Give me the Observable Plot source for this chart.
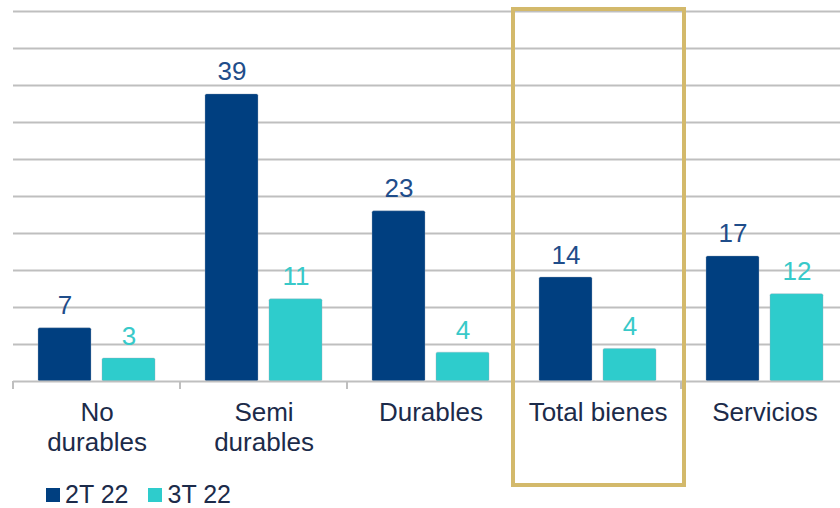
<!DOCTYPE html>
<html>
<head>
<meta charset="utf-8">
<script src="https://cdn.jsdelivr.net/npm/d3@7"></script>
<script src="https://cdn.jsdelivr.net/npm/@observablehq/plot@0.6"></script>
<style>
  html, body { margin: 0; padding: 0; background: #fff; overflow: hidden; width: 840px; height: 508px; }
  #chart { width: 840px; }
  #chart svg { display: block; max-width: none !important; }
  .legend { display: flex; align-items: center; height: 27px; line-height: 27px; margin-left: 46px; font-family: "Liberation Sans", Arial, sans-serif; font-size: 25px; color: #1c2b4a; }
  .legend .item { display: flex; align-items: center; margin-right: 20px; }
  .legend .sw { width: 14px; height: 14px; margin-right: 5px; }
</style>
</head>
<body>
<div id="chart"></div>
<script>
const categories = ["No durables", "Semi durables", "Durables", "Total bienes", "Servicios"];
const categoryLabels = ["No\ndurables", "Semi\ndurables", "Durables", "Total bienes", "Servicios"];
const series = ["2T 22", "3T 22"];
const values2T = [7.2, 38.8, 23.0, 14.05, 16.9];
const values3T = [3.1, 11.1, 3.9, 4.4, 11.8];
const yTicks = [5, 10, 15, 20, 25, 30, 35, 40, 45, 50];
const highlighted = "Total bienes";

const barColors = ["#003f80", "#2ecccc"];
const labelColors = ["#1f4d8a", "#38c9c9"];
const font = "'Liberation Sans', Arial, sans-serif";

const rows = [];
categories.forEach((c, i) => {
  rows.push({cat: c, series: series[0], value: values2T[i]});
  rows.push({cat: c, series: series[1], value: values3T[i]});
});
const labelOf = new Map(categories.map((c, i) => [c, categoryLabels[i]]));

const plot = Plot.plot({
  width: 848,
  height: 481,
  marginLeft: 13,
  marginRight: 0,
  marginTop: 11,
  marginBottom: 100,
  style: {fontFamily: font, background: "transparent", overflow: "visible", maxWidth: "none"},
  fx: {domain: categories, padding: 0, label: null},
  x: {domain: series, paddingInner: 0.17, paddingOuter: 0.37, axis: null},
  y: {domain: [0, 50], axis: null},
  color: {domain: series, range: barColors},
  marks: [
    Plot.gridY(yTicks, {stroke: "#bfbfbf", strokeOpacity: 1, strokeWidth: 2}),
    Plot.barY(rows, {fx: "cat", x: "series", y: "value", fill: "series", rx: 1.5, stroke: "#9aa8b8", strokeOpacity: 0.35, strokeWidth: 1}),
    Plot.ruleY([0], {stroke: "#bfbfbf", strokeWidth: 2}),
    Plot.text(rows, {fx: "cat", x: "series", y: "value", text: d => String(Math.round(d.value)),
      fill: d => labelColors[series.indexOf(d.series)], fontSize: 26, lineAnchor: "bottom", dy: -14}),
    Plot.axisFx({anchor: "bottom", tickSize: 0, tickPadding: 18, fontSize: 26, lineHeight: 1.15,
      tickFormat: d => labelOf.get(d), fill: "#1c2b4a", label: null})
  ]
});

document.getElementById("chart").appendChild(plot);

// Decorations: category boundary ticks and highlight box
const fx = plot.scale("fx");
const y = plot.scale("y");
const svg = d3.select(plot);
const y0 = y.apply(0);
const deco = svg.append("g");
categories.forEach(c => {
  const xs = fx.apply(c);
  deco.append("line").attr("x1", xs).attr("x2", xs).attr("y1", y0).attr("y2", y0 + 8)
    .attr("stroke", "#bfbfbf").attr("stroke-width", 2);
});
const hx = fx.apply(highlighted);
deco.append("rect")
  .attr("x", hx - 1).attr("y", y.apply(50) - 2)
  .attr("width", fx.bandwidth + 4).attr("height", (y0 + 104) - (y.apply(50) - 2))
  .attr("fill", "none").attr("stroke", "#d3b96b").attr("stroke-width", 4);

// Legend
const legend = document.createElement("div");
legend.className = "legend";
series.forEach((s, i) => {
  const item = document.createElement("div");
  item.className = "item";
  item.innerHTML = `<span class="sw" style="background:${barColors[i]}"></span><span>${s}</span>`;
  legend.appendChild(item);
});
document.body.appendChild(legend);
</script>
</body>
</html>
